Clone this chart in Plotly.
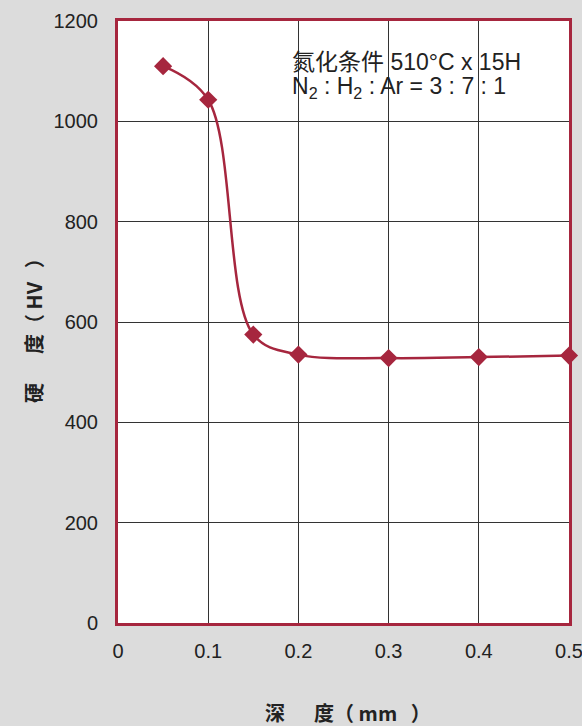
import plotly.graph_objects as go

# Nitrided layer hardness profile
depth_mm = [0.05, 0.1, 0.15, 0.2, 0.3, 0.4, 0.5]
hardness_hv = [1110, 1043, 575, 535, 528, 530, 533]

x_ticks = [0, 0.1, 0.2, 0.3, 0.4, 0.5]
x_tick_text = ["0", "0.1", "0.2", "0.3", "0.4", "0.5"]
y_ticks = [0, 200, 400, 600, 800, 1000, 1200]

NB = "\u00a0"
x_title = f"深　{NB}{NB}度（{NB}mm{NB}{NB}{NB}）"
y_title = f"硬　{NB}{NB}度（{NB}HV{NB}{NB}{NB}）"
note_line1 = "氮化条件 510°C x 15H"
note_line2 = "N<sub>2</sub> : H<sub>2</sub> : Ar = 3 : 7 : 1"

RED = "#a6263e"
TEXT = "#222"
FONT = "Liberation Sans, Arial, Noto Sans CJK SC, sans-serif"
TITLE_FONT = "Noto Sans CJK SC, Liberation Sans, sans-serif"

fig = go.Figure()
fig.add_trace(go.Scatter(
    x=depth_mm, y=hardness_hv,
    mode="lines+markers",
    line=dict(color=RED, width=2.5, shape="spline", smoothing=1.0),
    marker=dict(symbol="diamond", size=14, color=RED),
    showlegend=False,
    cliponaxis=False,
))

# condition note, two lines set separately to keep the line spacing tight
for txt, ypos in [(note_line1, 0.932), (note_line2, 0.889)]:
    fig.add_annotation(
        xref="paper", yref="paper", x=0.381, y=ypos,
        xanchor="left", yanchor="middle", align="left", showarrow=False,
        text=txt, font=dict(size=23, color=TEXT, family=FONT),
    )

# axis titles
fig.add_annotation(
    xref="paper", yref="paper", x=0.5, y=0, yshift=-89, xshift=4,
    xanchor="center", yanchor="middle", showarrow=False,
    text=f"<b>{x_title}</b>", font=dict(size=20, color=TEXT, family=TITLE_FONT),
)
fig.add_annotation(
    xref="paper", yref="paper", x=0, y=0.5, xshift=-85, yshift=-4,
    xanchor="center", yanchor="middle", showarrow=False, textangle=-90,
    text=f"<b>{y_title}</b>", font=dict(size=20, color=TEXT, family=TITLE_FONT),
)

fig.update_layout(
    width=582, height=726,
    margin=dict(l=118, r=13, t=21, b=103, autoexpand=False),
    paper_bgcolor="#dcdcdc",
    plot_bgcolor="white",
    font=dict(family=FONT, size=20, color=TEXT),
    xaxis=dict(
        range=[0, 0.5], tickvals=x_ticks, ticktext=x_tick_text,
        showgrid=True, gridcolor="#333", gridwidth=1,
        showline=True, linecolor=RED, linewidth=3, mirror=True,
        ticks="", ticklabelstandoff=8, zeroline=False, automargin=False,
        ticklabeloverflow="allow",
    ),
    yaxis=dict(
        range=[0, 1200], tickvals=y_ticks,
        showgrid=True, gridcolor="#333", gridwidth=1,
        showline=True, linecolor=RED, linewidth=3, mirror=True,
        ticks="", ticklabelstandoff=13, zeroline=False, automargin=False,
    ),
)

fig.write_html("out.html")
